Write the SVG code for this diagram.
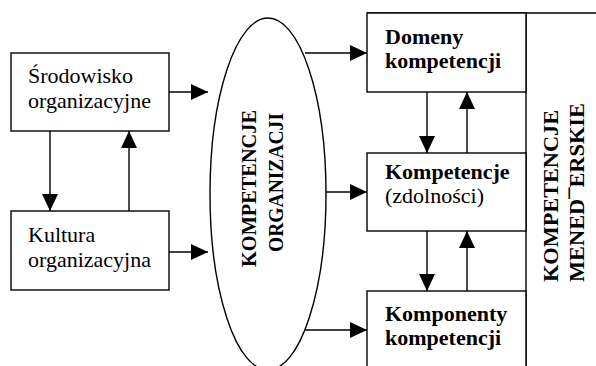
<svg xmlns="http://www.w3.org/2000/svg" width="596" height="366" viewBox="0 0 596 366">
  <style>
    .box { fill: #fff; stroke: #000; stroke-width: 1.4; }
    .ln { fill: none; stroke: #000; stroke-width: 1.4; }
    text { font-family: 'Liberation Serif', serif; fill: #000; }
    .reg { font-size: 22px; }
    .bold { font-size: 22px; font-weight: bold; }
    .vert { font-size: 20px; font-weight: bold; }
  </style>
  <defs>
    <marker id="arrow" markerUnits="userSpaceOnUse" markerWidth="18" markerHeight="16" refX="17" refY="8" orient="auto">
      <polygon points="0,0 17,8 0,16" fill="#000"/>
    </marker>
  </defs>
  <rect width="596" height="366" fill="#fff"/>

  <!-- outer frame of the managerial competences column -->
  <g id="frame">
    <line class="ln" x1="367" y1="13" x2="596" y2="13"/>
    <line class="ln" x1="526" y1="13" x2="526" y2="366"/>
    <text class="vert" transform="translate(558,282) rotate(-90)" textLength="172" lengthAdjust="spacingAndGlyphs">KOMPETENCJE</text>
    <text class="vert" transform="translate(584,282) rotate(-90)" textLength="179" lengthAdjust="spacingAndGlyphs">MENED¯ERSKIE</text>
  </g>

  <g id="srodowisko">
    <rect class="box" x="11" y="53" width="158" height="78"/>
    <text class="reg" x="28" y="83">Środowisko</text>
    <text class="reg" x="28" y="108">organizacyjne</text>
  </g>

  <g id="kultura">
    <rect class="box" x="11" y="211" width="158" height="79"/>
    <text class="reg" x="28" y="242">Kultura</text>
    <text class="reg" x="28" y="267">organizacyjna</text>
  </g>

  <g id="kompetencje-organizacji">
    <ellipse class="ln" cx="268" cy="194" rx="58" ry="176"/>
    <text class="vert" transform="translate(256,267) rotate(-90)" textLength="157" lengthAdjust="spacingAndGlyphs">KOMPETENCJE</text>
    <text class="vert" transform="translate(283,252) rotate(-90)" textLength="139" lengthAdjust="spacingAndGlyphs">ORGANIZACJI</text>
  </g>

  <g id="domeny">
    <rect class="box" x="367" y="13" width="159" height="79"/>
    <text class="bold" x="385" y="44">Domeny</text>
    <text class="bold" x="385" y="68">kompetencji</text>
  </g>

  <g id="kompetencje">
    <rect class="box" x="367" y="153" width="159" height="78"/>
    <text class="bold" x="385" y="179">Kompetencje</text>
    <text class="reg" x="385" y="203">(zdolności)</text>
  </g>

  <g id="komponenty">
    <rect class="box" x="367" y="291" width="159" height="80"/>
    <text class="bold" x="385" y="321">Komponenty</text>
    <text class="bold" x="385" y="345">kompetencji</text>
  </g>

  <g id="connectors">
    <line class="ln" x1="50" y1="131" x2="50" y2="211" marker-end="url(#arrow)"/>
    <line class="ln" x1="129" y1="211" x2="129" y2="131" marker-end="url(#arrow)"/>
    <line class="ln" x1="169" y1="92" x2="208" y2="92" marker-end="url(#arrow)"/>
    <line class="ln" x1="169" y1="252" x2="208" y2="252" marker-end="url(#arrow)"/>
    <line class="ln" x1="305" y1="53" x2="367" y2="53" marker-end="url(#arrow)"/>
    <line class="ln" x1="326" y1="192" x2="367" y2="192" marker-end="url(#arrow)"/>
    <line class="ln" x1="305" y1="330" x2="367" y2="330" marker-end="url(#arrow)"/>
    <line class="ln" x1="427" y1="92" x2="427" y2="153" marker-end="url(#arrow)"/>
    <line class="ln" x1="467" y1="153" x2="467" y2="92" marker-end="url(#arrow)"/>
    <line class="ln" x1="427" y1="231" x2="427" y2="291" marker-end="url(#arrow)"/>
    <line class="ln" x1="467" y1="291" x2="467" y2="231" marker-end="url(#arrow)"/>
  </g>
</svg>
